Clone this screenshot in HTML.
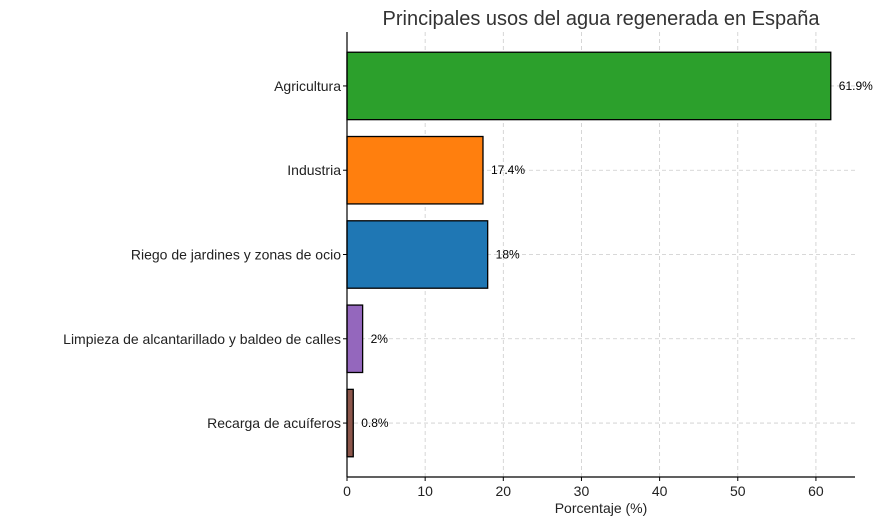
<!DOCTYPE html>
<html><head><meta charset="utf-8"><style>
body{margin:0;background:#fff;}
svg text{font-family:"Liberation Sans","DejaVu Sans",sans-serif;}
</style></head><body>
<svg id="chart" width="887" height="525" xmlns="http://www.w3.org/2000/svg">
<text x="601" y="25" text-anchor="middle" font-size="20" fill="#333">Principales usos del agua regenerada en España</text>
<g id="grid"></g><g id="bars"></g><g id="axes"></g>
<text x="601" y="513" text-anchor="middle" font-size="14" fill="#222">Porcentaje (%)</text>
</svg>
<script>
const categories=["Agricultura","Industria","Riego de jardines y zonas de ocio","Limpieza de alcantarillado y baldeo de calles","Recarga de acuíferos"];
const values=[61.9,17.4,18,2,0.8];
const valueLabels=["61.9%","17.4%","18%","2%","0.8%"];
const colors=["#2ca02c","#ff7f0e","#1f77b4","#9467bd","#8c564b"];
const xTicks=[0,10,20,30,40,50,60];
const L=347,R=855,T=32,B=477,xMax=65;
const x=v=>L+(v/xMax)*(R-L);
const step=(B-T)/5.28;
const y=i=>T+(0.64+i)*step;
const NS="http://www.w3.org/2000/svg";
function mk(p,t,a){const e=document.createElementNS(NS,t);for(const k in a)e.setAttribute(k,a[k]);p.appendChild(e);return e;}
const grid=document.getElementById('grid'),bars=document.getElementById('bars'),axes=document.getElementById('axes');
xTicks.forEach(t=>{const g=mk(grid,'line',{x1:x(t),x2:x(t),y1:T,y2:B,stroke:'#ccc','stroke-dasharray':'4,3','stroke-width':0.8});
});
categories.forEach((c,i)=>{const g=mk(grid,'line',{x1:L,x2:R,y1:y(i),y2:y(i),stroke:'#ccc','stroke-dasharray':'4,3','stroke-width':0.8});
});
categories.forEach((c,i)=>{
const h=step*0.8;
const r=mk(bars,'rect',{x:x(0),y:y(i)-h/2,width:x(values[i])-x(0),height:h,fill:colors[i],stroke:'#000','stroke-width':1.3});

const t=mk(bars,'text',{x:x(values[i])+8,y:y(i)+4,'font-size':12,fill:'#000'});t.textContent=valueLabels[i];

const yl=mk(axes,'text',{x:L-6,y:y(i)+5,'text-anchor':'end','font-size':14,fill:'#222'});yl.textContent=c;

mk(axes,'line',{x1:L-4,x2:L,y1:y(i),y2:y(i),stroke:'#000'});
});
xTicks.forEach(t=>{mk(axes,'line',{x1:x(t),x2:x(t),y1:B,y2:B+4,stroke:'#000'});
const l=mk(axes,'text',{x:x(t),y:B+19,'text-anchor':'middle','font-size':14,fill:'#222'});l.textContent=t;
});
const a1=mk(axes,'line',{x1:L,x2:L,y1:T,y2:B,stroke:'#000','stroke-width':1.2});

const a2=mk(axes,'line',{x1:L,x2:R,y1:B,y2:B,stroke:'#000','stroke-width':1.2});

</script>
</body></html>
